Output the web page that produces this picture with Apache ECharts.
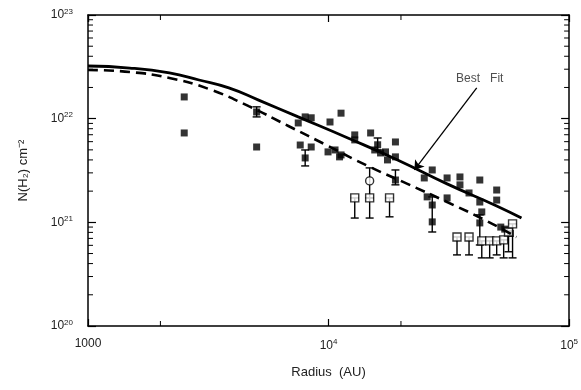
<!DOCTYPE html>
<html><head><meta charset="utf-8">
<script src="https://cdn.jsdelivr.net/npm/echarts@6/dist/echarts.min.js"></script>
<style>html,body{margin:0;padding:0;background:#fff}#c{width:581px;height:390px}</style>
</head><body><div id="c"></div>
<script>
// Best-fit (solid) curve
const solidR = [1000,1490,2180,2895,3850,5120,7480,12030,19360,31100,50000,63400];
const solidN = [3.22e22,3.08e22,2.76e22,2.36e22,1.98e22,1.51e22,1.04e22,6.51e21,4.00e21,2.35e21,1.44e21,1.10e21];
// Dashed model curve
const dashR = [1000,1490,2180,3185,4656,6808,9950,14550,21280,31100,45500,60400];
const dashN = [2.95e22,2.82e22,2.47e22,1.93e22,1.32e22,8.5e21,5.46e21,3.50e21,2.35e21,1.57e21,1.03e21,7.2e20];
// Filled squares
const fillR = [2512,2512,5024,5024,7482,7995,8470,7625,8470,7995,10140,11270,9950,10640,11270,12850,14960,12850,15560,16450,17250,18970,18970,17580,18970,11110,26980,25700,26980,26980,25000,31100,35180,35180,42540,50000,50000,31100,38370,42540,43350,42540,16000,54000,57000,52000];
const fillN = [1.62e22,7.28e21,1.16e22,5.33e21,9.09e21,1.04e22,1.02e22,5.57e21,5.33e21,4.18e21,9.29e21,1.13e22,4.78e21,4.99e21,4.47e21,6.97e21,7.28e21,6.24e21,4.99e21,4.67e21,4.78e21,5.96e21,4.28e21,4.00e21,2.56e21,4.28e21,3.20e21,1.76e21,1.47e21,1.01e21,2.68e21,2.68e21,2.74e21,2.30e21,2.56e21,2.05e21,1.64e21,1.72e21,1.92e21,1.57e21,1.26e21,9.87e20,5.6e21,8.6e20,7.8e20,9.0e20];
// Open squares (lower-limit bars)
const openR = [12850,14820,17930,34200,38370,43350,46750,50000,53450,56000,58200];
const openN = [1.72e21,1.72e21,1.72e21,7.23e20,7.23e20,6.62e20,6.62e20,6.62e20,6.77e20,8.07e20,9.66e20];
const openLow = [1.10e21,1.10e21,1.13e21,4.85e20,4.85e20,4.54e20,4.54e20,4.85e20,4.54e20,5.2e20,4.54e20];
// Open circle
const circR = [14820];
const circN = [2.51e21];
const circLow = [1.72e21];
const circHigh = [3.35e21];
// Error bars on filled points
const errR = [5024,7995,16000,18970,26980,42540];
const errLow = [1.04e22,3.5e21,4.99e21,2.30e21,8.07e20,6.05e20];
const errHigh = [1.30e22,4.99e21,6.51e21,3.20e21,1.76e21,1.18e21];
// Annotation
const arrowFrom = [41300,1.98e22];
const arrowTo = [22750,3.2e21];
const labelAt = [42500,2.42e22];
const labelText = 'Best   Fit';
// Axis ticks
const xMin = 1000, xMax = 100000, yMin = 1e20, yMax = 1e23;
const yMinor = [2e20,3e20,4e20,5e20,6e20,7e20,8e20,9e20,2e21,3e21,4e21,5e21,6e21,7e21,8e21,9e21,2e22,3e22,4e22,5e22,6e22,7e22,8e22,9e22];
const xMinor = [2000,20000];

const zip = (a,b)=>a.map((v,i)=>[v,b[i]]);
const chart = echarts.init(document.getElementById('c'));
const FONT = 'Liberation Sans';
const supRich = {b:{fontSize:12,color:'#222',fontFamily:FONT},s:{fontSize:8,color:'#222',fontFamily:FONT,verticalAlign:'bottom',padding:[0,0,7,0]}};
function expLabel(v){const e=Math.round(Math.log10(v));return '{b|10}{s|'+e+'}';}
function errRender(params, api){
  const x=api.value(0), lo=api.value(1), hi=api.value(2);
  const a=api.coord([x,lo]), b=api.coord([x,hi]); const c=4;
  const st={stroke:'#000',lineWidth:1.4};
  return {type:'group',children:[
    {type:'line',shape:{x1:a[0],y1:a[1],x2:b[0],y2:b[1]},style:st},
    {type:'line',shape:{x1:a[0]-c,y1:a[1],x2:a[0]+c,y2:a[1]},style:st},
    {type:'line',shape:{x1:b[0]-c,y1:b[1],x2:b[0]+c,y2:b[1]},style:st}
  ]};
}
function yMinorRender(params, api){
  const v=api.value(0);
  const l=api.coord([xMin,v]), r=api.coord([xMax,v]);
  const st={stroke:'#000',lineWidth:1};
  return {type:'group',children:[
    {type:'line',shape:{x1:l[0],y1:l[1],x2:l[0]+5,y2:l[1]},style:st},
    {type:'line',shape:{x1:r[0],y1:r[1],x2:r[0]-5,y2:r[1]},style:st}
  ]};
}
function xMinorRender(params, api){
  const v=api.value(0);
  const b=api.coord([v,yMin]), t=api.coord([v,yMax]);
  const st={stroke:'#000',lineWidth:1};
  return {type:'group',children:[
    {type:'line',shape:{x1:b[0],y1:b[1],x2:b[0],y2:b[1]-5},style:st},
    {type:'line',shape:{x1:t[0],y1:t[1],x2:t[0],y2:t[1]+5},style:st}
  ]};
}
const axisLine={show:true,lineStyle:{color:'#000',width:1.5}};
chart.setOption({
  animation:false,
  backgroundColor:'#fff',
  grid:{left:88,right:8,top:15,bottom:64},
  xAxis:[{type:'log',logBase:10,min:xMin,max:xMax,axisLine,
    axisTick:{inside:true,length:7,lineStyle:{color:'#000',width:1.2}},
    splitLine:{show:false},
    axisLabel:{margin:12,formatter:v=>v===1000?'{b|1000}':expLabel(v),rich:supRich},
    name:'Radius  (AU)',nameLocation:'middle',nameGap:40,
    nameTextStyle:{fontSize:13,color:'#222',fontFamily:FONT}},
   {type:'log',logBase:10,min:xMin,max:xMax,position:'top',axisLine,
    axisTick:{inside:true,length:7,lineStyle:{color:'#000',width:1.2}},
    axisLabel:{show:false},splitLine:{show:false}}],
  yAxis:[{type:'log',logBase:10,min:yMin,max:yMax,axisLine,
    axisTick:{inside:true,length:8,lineStyle:{color:'#000',width:1.2}},
    splitLine:{show:false},
    axisLabel:{margin:15,formatter:expLabel,rich:supRich},
    name:'N(H₂) cm⁻²',nameLocation:'middle',nameGap:58,
    nameTextStyle:{fontSize:13,color:'#222',fontFamily:FONT}},
   {type:'log',logBase:10,min:yMin,max:yMax,position:'right',axisLine,
    axisTick:{inside:true,length:8,lineStyle:{color:'#000',width:1.2}},
    axisLabel:{show:false},splitLine:{show:false}}],
  series:[
    {type:'custom',renderItem:yMinorRender,data:yMinor.map(v=>[v]),encode:{y:0},silent:true,clip:false},
    {type:'custom',renderItem:xMinorRender,data:xMinor.map(v=>[v]),encode:{x:0},silent:true,clip:false},
    {type:'line',data:zip(solidR,solidN),smooth:true,showSymbol:false,lineStyle:{color:'#000',width:2.8}},
    {type:'line',data:zip(dashR,dashN),smooth:true,showSymbol:false,lineStyle:{color:'#000',width:2.6,type:[10,6]}},
    {type:'custom',renderItem:errRender,data:errR.map((r,i)=>[r,errLow[i],errHigh[i]]),encode:{x:0,y:[1,2]}},
    {type:'custom',renderItem:errRender,data:openR.map((r,i)=>[r,openLow[i],openN[i]]),encode:{x:0,y:[1,2]}},
    {type:'custom',renderItem:errRender,data:circR.map((r,i)=>[r,circLow[i],circHigh[i]]),encode:{x:0,y:[1,2]}},
    {type:'scatter',data:zip(fillR,fillN),symbol:'rect',symbolSize:7,itemStyle:{color:'#000'}},
    {type:'scatter',data:zip(openR,openN),symbol:'rect',symbolSize:8,itemStyle:{color:'#fff',borderColor:'#000',borderWidth:1.4}},
    {type:'scatter',data:zip(circR,circN),symbol:'circle',symbolSize:8,itemStyle:{color:'#fff',borderColor:'#000',borderWidth:1.4}},
    {type:'scatter',data:[labelAt],symbolSize:0,
      label:{show:true,position:'inside',formatter:labelText,fontSize:12,color:'#222',fontFamily:FONT},
      markLine:{silent:true,symbol:['none','arrow'],symbolSize:9,
        lineStyle:{color:'#000',width:1.3,type:'solid'},label:{show:false},
        data:[[{coord:arrowFrom},{coord:arrowTo}]]}}
  ]
});
</script></body></html>
